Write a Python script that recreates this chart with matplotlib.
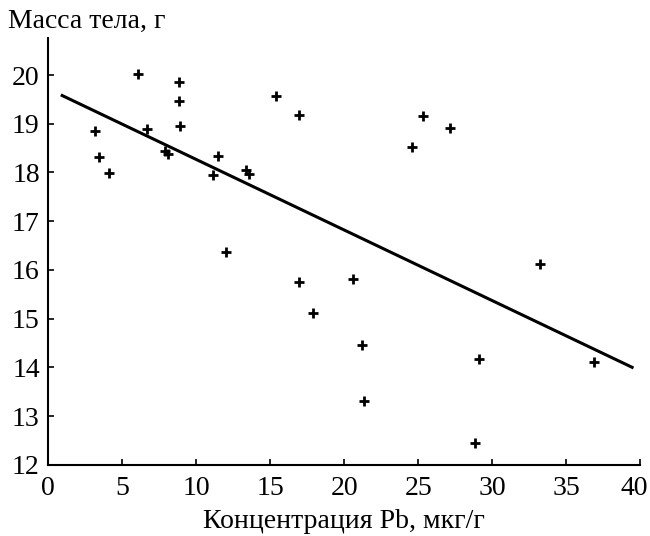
import numpy as np
import matplotlib
matplotlib.use("Agg")
import matplotlib.pyplot as plt
import matplotlib.transforms as mtransforms

#-----------------------------
#values
pb = [3.2, 3.45, 4.1, 6.1, 6.7, 7.9, 8.1, 8.85, 8.85, 8.9, 11.15, 11.5, 12.0,
      13.4, 13.6, 15.4, 16.95, 16.95, 17.9, 20.6, 21.2, 21.35, 24.55, 25.35,
      27.15, 28.85, 29.1, 33.2, 36.9]
mass = [18.85, 18.32, 17.99, 20.02, 18.9, 18.44, 18.38, 19.86, 19.47, 18.95,
        17.95, 18.34, 16.37, 18.05, 17.97, 19.57, 19.18, 15.75, 15.12, 15.81,
        14.45, 13.31, 18.53, 19.16, 18.92, 12.44, 14.17, 16.12, 14.1]
fit_x = [0.95, 39.45]
fit_y = [19.58, 14.0]

plt.rcParams['font.family'] = ['Liberation Serif', 'DejaVu Serif']

#------------------------------
#build plot
fig = plt.figure(figsize=(6.5, 5.36), dpi=100)
ax = fig.add_axes([0.074, 0.133, 0.911, 0.796])

ax.plot(fit_x, fit_y, color='black', lw=2.2)
ax.plot(pb, mass, '+', color='black', markersize=7, mew=2)

ax.set_xlim(0, 40)
ax.set_ylim(12, 20.76)
ax.set_xticks(np.arange(0, 41, 5))
ax.set_yticks(np.arange(12, 21, 1))
ax.spines['top'].set_visible(False)
ax.spines['right'].set_visible(False)
for s in ('left', 'bottom'):
    ax.spines[s].set_linewidth(1.5)
ax.tick_params(direction='in', length=4, width=1.2, labelsize=20)
ax.tick_params(axis='x', pad=8)
ax.tick_params(axis='y', pad=6)

# last x label sits a bit left so it stays on the page
last = ax.get_xticklabels()[-1]
last.set_transform(last.get_transform() +
                   mtransforms.ScaledTranslation(-0.06, 0, fig.dpi_scale_trans))

ax.set_xlabel('Концентрация Pb, мкг/г', fontsize=20, labelpad=6)
fig.text(0.012, 0.96, 'Масса тела, г', fontsize=20, ha='left', va='center')

fig.savefig('out.png', dpi=100)
